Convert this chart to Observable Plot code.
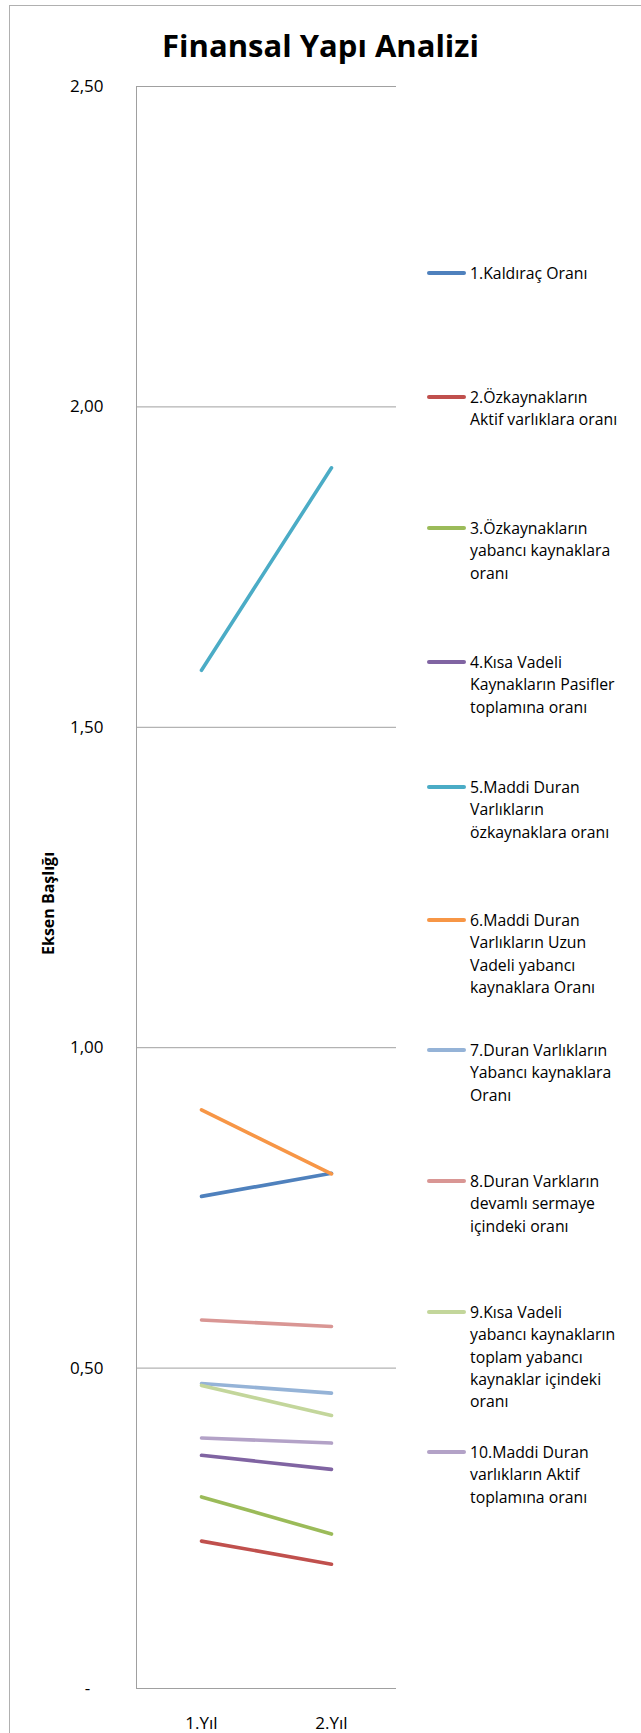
<!DOCTYPE html>
<html>
<head>
<meta charset="utf-8">
<script src="https://cdn.jsdelivr.net/npm/d3@7"></script>
<script src="https://cdn.jsdelivr.net/npm/@observablehq/plot@0.6"></script>
<style>
  html, body { margin: 0; padding: 0; background: #fff; }
  #wrap { position: relative; width: 641px; height: 1733px; overflow: hidden; font-family: "Open Sans", sans-serif; color: #000; }
  #frame { position: absolute; left: 9px; top: 5px; width: 700px; height: 1800px; border: 1px solid #b0b0b0; box-sizing: border-box; }
  #title { position: absolute; left: 0; width: 641px; top: 24px; text-align: center; font-weight: bold; font-size: 31px; line-height: 42px; }
  #chart { position: absolute; left: 0; top: 0; }
  .leg { position: absolute; left: 427px; }
  .leg .sw { position: absolute; left: 0; width: 39px; height: 4px; border-radius: 2px; }
  .leg .tx { position: absolute; left: 43px; white-space: nowrap; font-size: 15.8px; line-height: 22.3px; }
</style>
</head>
<body>
<div id="wrap">
  <div id="frame"></div>
  <div id="title">Finansal Yapı Analizi</div>
  <div id="chart"></div>
</div>
<script>
const categories = ["1.Yıl", "2.Yıl"];
const seriesNames = [
  "1.Kaldıraç Oranı",
  "2.Özkaynakların Aktif varlıklara oranı",
  "3.Özkaynakların yabancı kaynaklara oranı",
  "4.Kısa Vadeli Kaynakların Pasifler toplamına oranı",
  "5.Maddi Duran Varlıkların özkaynaklara oranı",
  "6.Maddi Duran Varlıkların Uzun Vadeli yabancı kaynaklara Oranı",
  "7.Duran Varlıkların Yabancı kaynaklara Oranı",
  "8.Duran Varkların devamlı sermaye içindeki oranı",
  "9.Kısa Vadeli yabancı kaynakların toplam yabancı kaynaklar içindeki oranı",
  "10.Maddi Duran varlıkların Aktif toplamına oranı"
];
const legendLines = [
  ["1.Kaldıraç Oranı"],
  ["2.Özkaynakların", "Aktif varlıklara oranı"],
  ["3.Özkaynakların", "yabancı kaynaklara", "oranı"],
  ["4.Kısa Vadeli", "Kaynakların Pasifler", "toplamına oranı"],
  ["5.Maddi Duran", "Varlıkların", "özkaynaklara oranı"],
  ["6.Maddi Duran", "Varlıkların Uzun", "Vadeli yabancı", "kaynaklara Oranı"],
  ["7.Duran Varlıkların", "Yabancı kaynaklara", "Oranı"],
  ["8.Duran Varkların", "devamlı sermaye", "içindeki oranı"],
  ["9.Kısa Vadeli", "yabancı kaynakların", "toplam yabancı", "kaynaklar içindeki", "oranı"],
  ["10.Maddi Duran", "varlıkların Aktif", "toplamına oranı"]
];
const year1 = [0.768, 0.230, 0.299, 0.364, 1.589, 0.903, 0.476, 0.575, 0.473, 0.391];
const year2 = [0.804, 0.194, 0.241, 0.342, 1.905, 0.803, 0.461, 0.565, 0.426, 0.383];
const colors = ["#4F81BD", "#C0504D", "#9BBB59", "#8064A2", "#4BACC6", "#F79646", "#95B3D7", "#D99694", "#C3D69B", "#B3A2C7"];
const yTicks = [0, 0.5, 1, 1.5, 2, 2.5];
const legendTop = [273, 397, 528, 662, 787, 920, 1050, 1181, 1312, 1452];

const rows = [];
seriesNames.forEach((s, i) => {
  rows.push({series: s, cat: categories[0], value: year1[i]});
  rows.push({series: s, cat: categories[1], value: year2[i]});
});

const fmt = d => d === 0 ? "-\u00a0\u00a0\u00a0" : d.toFixed(2).replace(".", ",");

const chart = Plot.plot({
  width: 641,
  height: 1733,
  marginTop: 86,
  marginBottom: 45,
  marginLeft: 136,
  marginRight: 245,
  style: {fontFamily: "Open Sans, sans-serif", fontSize: "17px", color: "#000", background: "transparent"},
  x: {type: "point", domain: categories, padding: 0.5, label: null},
  y: {domain: [0, 2.5], label: null},
  color: {domain: seriesNames, range: colors},
  marks: [
    Plot.gridY(yTicks, {stroke: "#a0a0a0", strokeOpacity: 1, strokeWidth: 1}),
    Plot.frame({anchor: "left", stroke: "#a0a0a0"}),
    Plot.axisY(yTicks, {tickSize: 0, tickPadding: 33, tickFormat: fmt, fontSize: 17}),
    Plot.axisX(categories, {tickSize: 0, tickPadding: 28, fontSize: 17}),
    Plot.text(["Eksen Başlığı"], {frameAnchor: "left", textAnchor: "middle", rotate: -90, dx: -88, dy: 16, fontWeight: "bold", fontSize: 16}),
    Plot.line(rows, {x: "cat", y: "value", z: "series", stroke: "series", strokeWidth: 3.6, strokeLinecap: "round"})
  ]
});
document.getElementById("chart").appendChild(chart);

const wrap = document.getElementById("wrap");
legendLines.forEach((lines, i) => {
  const d = document.createElement("div");
  d.className = "leg";
  d.style.top = legendTop[i] + "px";
  const sw = document.createElement("div");
  sw.className = "sw";
  sw.style.background = colors[i];
  sw.style.top = "-2px";
  const tx = document.createElement("div");
  tx.className = "tx";
  tx.style.top = "-11px";
  tx.innerHTML = lines.join("<br>");
  d.appendChild(sw);
  d.appendChild(tx);
  wrap.appendChild(d);
});
</script>
</body>
</html>
